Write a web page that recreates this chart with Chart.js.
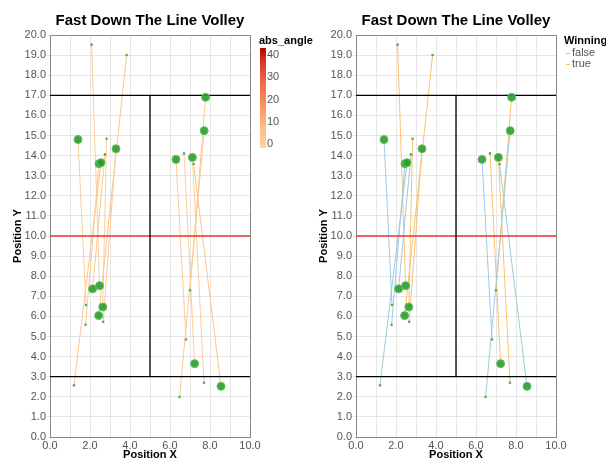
<!DOCTYPE html>
<html>
<head>
<meta charset="utf-8">
<script src="https://cdn.jsdelivr.net/npm/chart.js@4.4.0/dist/chart.umd.min.js"></script>
<style>
body { margin: 0; background: #fff; }
#chartLeft { position: absolute; left: 0; top: 0; }
#chartRight { position: absolute; left: 306px; top: 0; }
</style>
</head>
<body>
<canvas id="chartLeft" width="320" height="462"></canvas>
<canvas id="chartRight" width="300" height="462"></canvas>
<script>
// shots: small dot = start, big dot = end
var startX = [1.80, 1.78, 1.20, 2.66, 2.75, 2.08, 3.83, 2.83, 6.80, 6.48, 7.00, 7.70, 6.70, 7.18];
var startY = [6.57, 5.58, 2.57, 5.73, 14.06, 19.52, 19.00, 14.84, 4.85, 1.99, 7.30, 2.70, 14.11, 13.58];
var endX = [1.40, 2.45, 2.55, 3.30, 2.13, 2.48, 2.43, 2.64, 6.30, 7.71, 7.78, 7.12, 7.23, 8.55];
var endY = [14.80, 13.60, 13.65, 14.34, 7.37, 7.53, 6.04, 6.47, 13.81, 15.24, 16.90, 13.91, 3.65, 2.52];
var winning = [false, false, false, true, false, true, true, true, false, false, true, true, true, false];
var absAngle = [2.8, 4.8, 6.9, 4.3, 5.3, 1.9, 6.2, 1.3, 3.2, 5.3, 4.6, 3.0, 2.9, 7.1];

// court lines [x1, y1, x2, y2]
var courtLines = [[0, 17, 10, 17], [0, 3, 10, 3], [5, 3, 5, 17]];
var netLine = [0, 10, 10, 10];

var chartTitle = "Fast Down The Line Volley";
var angleTicks = [0, 10, 20, 30, 40];
var angleMax = 45;
var winningLabels = ["false", "true"];

var fontFamily = '"Liberation Sans", Arial, sans-serif';
Chart.defaults.font.family = fontFamily;

// colour scale for abs_angle
var angleStops = [0, 10, 20, 30, 40, 45];
var angleColors = ["#fdd49e", "#fdbb84", "#fc8d59", "#ef6548", "#d7301f", "#b30000"];
var winColors = { "false": "#9ecae1", "true": "#fdbf6f" };

function hexToRgb(h) {
	return [parseInt(h.substr(1, 2), 16), parseInt(h.substr(3, 2), 16), parseInt(h.substr(5, 2), 16)];
}
function angleColor(v) {
	for (var i = 0; i < angleStops.length - 1; i++) {
		if (v <= angleStops[i + 1]) {
			var t = (v - angleStops[i]) / (angleStops[i + 1] - angleStops[i]);
			var a = hexToRgb(angleColors[i]), b = hexToRgb(angleColors[i + 1]);
			var c = a.map(function(x, k) { return Math.round(x + (b[k] - x) * t); });
			return "rgb(" + c.join(",") + ")";
		}
	}
	return angleColors[angleColors.length - 1];
}

function buildDatasets(colorOf) {
	var sets = [];
	// big dots
	sets.push({
		data: endX.map(function(x, i) { return { x: x, y: endY[i] }; }),
		pointRadius: 4, pointBackgroundColor: "rgba(46,155,46,0.9)", pointBorderColor: "#5fbf5f",
		pointBorderWidth: 1, showLine: false, order: 0
	});
	// small dots
	sets.push({
		data: startX.map(function(x, i) { return { x: x, y: startY[i] }; }),
		pointRadius: 1.3, pointBackgroundColor: "#4caf50", pointBorderWidth: 0, showLine: false, order: 0
	});
	// court
	courtLines.forEach(function(l) {
		sets.push({ data: [{ x: l[0], y: l[1] }, { x: l[2], y: l[3] }], showLine: true, pointRadius: 0,
			borderColor: "#000", borderWidth: 1.3, order: 1 });
	});
	sets.push({ data: [{ x: netLine[0], y: netLine[1] }, { x: netLine[2], y: netLine[3] }], showLine: true,
		pointRadius: 0, borderColor: "#f03030", borderWidth: 1.3, order: 1 });
	// shot lines
	startX.forEach(function(x, i) {
		sets.push({ data: [{ x: x, y: startY[i] }, { x: endX[i], y: endY[i] }], showLine: true, pointRadius: 0,
			borderColor: colorOf(i), borderWidth: 1, order: 2 });
	});
	return sets;
}

var decorPlugin = {
	id: "decor",
	beforeDatasetsDraw: function(chart) {
		var a = chart.chartArea, ctx = chart.ctx;
		ctx.save();
		ctx.strokeStyle = "#888";
		ctx.lineWidth = 1;
		ctx.strokeRect(Math.round(a.left) + 0.5, Math.round(a.top) + 0.5, a.right - a.left, a.bottom - a.top);
		ctx.restore();
	},
	afterDraw: function(chart, args, opts) {
		var a = chart.chartArea, ctx = chart.ctx;
		ctx.save();
		ctx.fillStyle = "#000";
		ctx.font = "bold 15px " + fontFamily;
		ctx.textAlign = "center";
		ctx.textBaseline = "middle";
		ctx.fillText(chartTitle, (a.left + a.right) / 2, 21);
		ctx.textAlign = "left";
		if (opts.kind === "colorbar") {
			var x0 = a.right + 9;
			ctx.font = "bold 11px " + fontFamily;
			ctx.fillText("abs_angle", x0, 41);
			var top = 48, bottom = 148;
			var g = ctx.createLinearGradient(0, bottom, 0, top);
			angleStops.forEach(function(s, i) { g.addColorStop(s / angleMax, angleColors[i]); });
			ctx.fillStyle = g;
			ctx.fillRect(x0 + 1, top, 6, bottom - top);
			ctx.font = "11px " + fontFamily;
			ctx.fillStyle = "#555";
			angleTicks.forEach(function(t) {
				ctx.fillText(String(t), x0 + 8, bottom - (t / angleMax) * (bottom - top) - 4);
			});
		} else {
			var x1 = a.right + 8;
			ctx.font = "bold 11px " + fontFamily;
			ctx.fillText("Winning", x1, 41);
			ctx.font = "11px " + fontFamily;
			winningLabels.forEach(function(lab, i) {
				var y = 53 + i * 11;
				ctx.strokeStyle = winColors[lab];
				ctx.lineWidth = 1;
				ctx.beginPath();
				ctx.moveTo(x1 + 2, y + 0.5);
				ctx.lineTo(x1 + 6, y + 0.5);
				ctx.stroke();
				ctx.fillStyle = "#555";
				ctx.fillText(lab, x1 + 8, y);
			});
		}
		ctx.restore();
	}
};

function makeOptions(kind, rightPad) {
	return {
		responsive: false,
		animation: false,
		layout: { padding: { top: 35, right: rightPad, left: 0, bottom: 0 } },
		plugins: { legend: { display: false }, title: { display: false }, tooltip: { enabled: false }, decor: { kind: kind } },
		scales: {
			x: {
				type: "linear", min: 0, max: 10,
				afterFit: function(s) { s.height = 25; },
				grid: { color: "#e6e6e6", tickLength: 2 },
				border: { color: "#888" },
				ticks: { stepSize: 1, autoSkip: false, maxRotation: 0, padding: 0, color: "#555", font: { size: 11 },
					callback: function(v) { return v % 2 === 0 ? v.toFixed(1) : ""; } },
				title: { display: true, text: "Position X", color: "#000", font: { size: 11, weight: "bold" }, padding: { top: 0, bottom: 0 } }
			},
			y: {
				type: "linear", min: 0, max: 20,
				afterFit: function(s) { s.width = 50; },
				grid: { color: "#e6e6e6", tickLength: 3 },
				border: { color: "#888" },
				ticks: { stepSize: 1, autoSkip: false, padding: 1, color: "#555", font: { size: 11 },
					callback: function(v) { return v.toFixed(1); } },
				title: { display: true, text: "Position Y", color: "#000", font: { size: 11, weight: "bold" }, padding: { top: 11, bottom: 0 } }
			}
		}
	};
}

new Chart(document.getElementById("chartLeft"), {
	type: "scatter",
	data: { datasets: buildDatasets(function(i) { return angleColor(absAngle[i]); }) },
	options: makeOptions("colorbar", 70),
	plugins: [decorPlugin]
});

new Chart(document.getElementById("chartRight"), {
	type: "scatter",
	data: { datasets: buildDatasets(function(i) { return winColors[String(winning[i])]; }) },
	options: makeOptions("legend", 50),
	plugins: [decorPlugin]
});
</script>
</body>
</html>
